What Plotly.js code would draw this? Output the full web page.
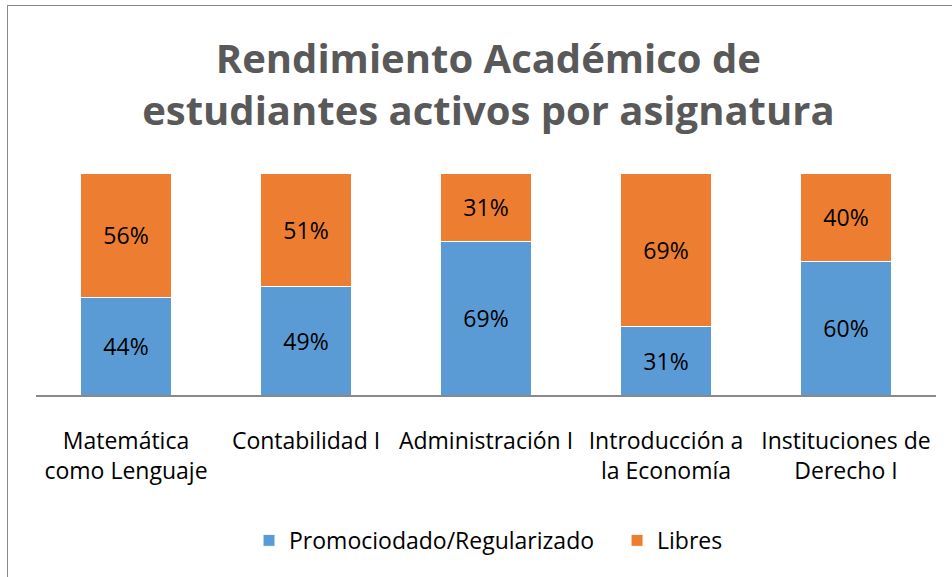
<!DOCTYPE html>
<html>
<head>
<meta charset="utf-8">
<script src="https://cdn.plot.ly/plotly-3.0.1.min.js"></script>
<style>
html,body{margin:0;padding:0;background:#fff;}
#wrap{position:relative;width:952px;height:577px;overflow:hidden;}
#frame{position:absolute;left:7px;top:5px;width:1000px;height:1000px;border:1.5px solid #898989;box-sizing:border-box;pointer-events:none;}
#chart{position:absolute;left:0;top:0;width:952px;height:577px;}
</style>
</head>
<body>
<div id="wrap">
<div id="chart"></div>
<div id="frame"></div>
</div>
<script>
const categories = [
  "Matemática<br>como Lenguaje",
  "Contabilidad I",
  "Administración I",
  "Introducción a<br>la Economía",
  "Instituciones de<br>Derecho I"
];
const promociodado = [44, 49, 69, 31, 60];
const libres = [56, 51, 31, 69, 40];
const seriesNames = ["Promociodado/Regularizado", "Libres"];

const FONT = "Open Sans, Liberation Sans, sans-serif";

const traces = [
  {
    type: "bar", name: seriesNames[0], x: categories, y: promociodado,
    marker: {color: "#5B9BD5", line: {color: "#ffffff", width: 1}},
    texttemplate: "%{y}%", textposition: "inside", insidetextanchor: "middle",
    textfont: {family: FONT, size: 23, color: "#000000"}, hoverinfo: "none",
    legend: "legend"
  },
  {
    type: "bar", name: seriesNames[1], x: categories, y: libres,
    marker: {color: "#ED7D31", line: {color: "#ffffff", width: 1}},
    texttemplate: "%{y}%", textposition: "inside", insidetextanchor: "middle",
    textfont: {family: FONT, size: 23, color: "#000000"}, hoverinfo: "none",
    legend: "legend2"
  }
];

const legendBase = {
  orientation: "h", y: -0.655, yanchor: "middle", xanchor: "left",
  font: {family: FONT, size: 23, color: "#000000"},
  itemwidth: 30, bgcolor: "rgba(0,0,0,0)"
};

const layout = {
  width: 952, height: 577,
  margin: {l: 36, r: 16, t: 173, b: 182},
  barmode: "stack",
  bargap: 0.49,
  paper_bgcolor: "#ffffff",
  plot_bgcolor: "#ffffff",
  title: {
    text: "<b>Rendimiento Académico de<br>estudiantes activos por asignatura</b>",
    font: {family: FONT, size: 40, color: "#595959"},
    x: 0.513, xanchor: "center", y: 0.873, yanchor: "top"
  },
  xaxis: {
    type: "category",
    showline: true, linecolor: "#898989", linewidth: 2,
    ticks: "", showgrid: false, zeroline: false,
    tickfont: {family: FONT, size: 23, color: "#000000"},
    ticklabelstandoff: 24
  },
  yaxis: {
    range: [0, 100], visible: false, showgrid: false, zeroline: false, fixedrange: true
  },
  showlegend: true,
  legend: Object.assign({}, legendBase, {x: 0.2367}),
  legend2: Object.assign({}, legendBase, {x: 0.6456})
};

Plotly.newPlot("chart", traces, layout, {displayModeBar: false, staticPlot: true});
</script>
</body>
</html>
